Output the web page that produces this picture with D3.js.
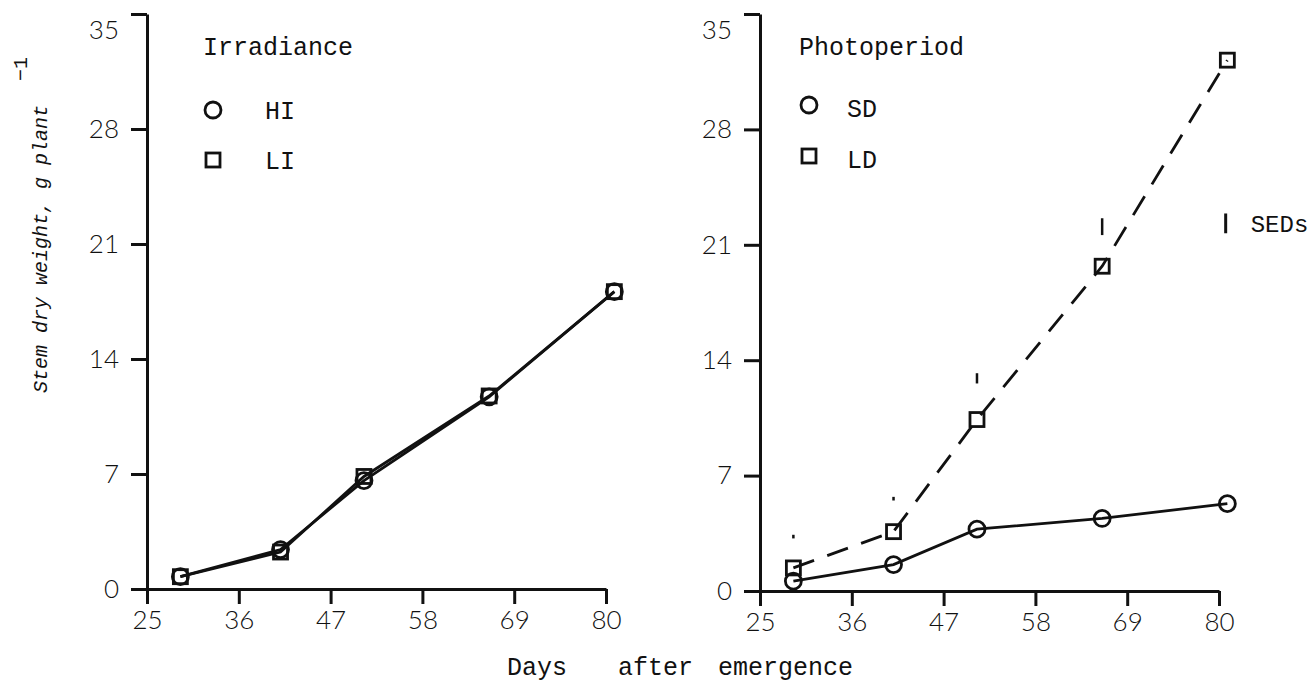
<!DOCTYPE html>
<html>
<head>
<meta charset="utf-8">
<script src="https://cdn.jsdelivr.net/npm/d3@7"></script>
<style>
  body { margin: 0; background: #fff; }
  svg { display: block; }
  .tw { font-family: "Liberation Mono", "DejaVu Sans Mono", monospace; fill: #111; }
  .axis path, .axis line { stroke: #111; stroke-width: 3; }
  .axis text { font-family: Lato, "Open Sans", sans-serif; font-weight: 300; font-size: 26px; fill: #111; }
</style>
</head>
<body>
<div class="chart"></div>
<script>
// stem dry weight (g per plant) at each harvest
var days = [29, 41, 51, 66, 81];
var hiWeight = [0.75, 2.4, 6.6, 11.7, 18.1];
var liWeight = [0.75, 2.25, 6.85, 11.75, 18.1];
var sdWeight = [0.6, 1.6, 3.75, 4.4, 5.3];
var ldWeight = [1.4, 3.6, 10.4, 19.7, 32.2];

// standard errors of difference, drawn as bars above the points
var sedDays = [29, 41, 51, 66];
var sedCentre = [3.3, 5.6, 12.9, 22.1];
var sedLength = [0.1, 0.1, 0.5, 0.9];
var sedKey = {day: 80.8, centre: 22.3, length: 1.2};

var xTicks = [25, 36, 47, 58, 69, 80];
var yTicks = [0, 7, 14, 21, 28, 35];

var width = 1313, height = 690;
var svg = d3.select(".chart").append("svg")
    .attr("width", width)
    .attr("height", height);

function panel(opt) {
  var x = d3.scaleLinear().domain([25, 80]).range([opt.left, opt.left + 459]);
  var y = d3.scaleLinear().domain([0, 35]).range([opt.bottom, 14]);

  svg.append("g")
      .attr("class", "axis")
      .attr("transform", "translate(0," + opt.bottom + ")")
      .call(d3.axisBottom(x).tickValues(xTicks).tickSize(15).tickSizeOuter(0).tickPadding(7));

  var yAxis = svg.append("g")
      .attr("class", "axis")
      .attr("transform", "translate(" + opt.left + ",0)")
      .call(d3.axisLeft(y).tickValues(yTicks).tickSize(16).tickSizeOuter(0).tickPadding(12));

  // top label sits a little below its tick
  yAxis.selectAll(".tick text")
      .filter(function(d) { return d == 35; })
      .attr("dy", "0.95em");

  var line = d3.line()
      .x(function(d, i) { return x(days[i]); })
      .y(function(d) { return y(d); });

  opt.series.forEach(function(s) {
    svg.append("path")
        .datum(s.values)
        .attr("fill", "none")
        .attr("stroke", "#111")
        .attr("stroke-width", 2.8)
        .attr("stroke-dasharray", s.dashed ? "22,14" : null)
        .attr("d", line);
  });

  // markers on top of the lines
  opt.series.forEach(function(s) {
    var g = svg.append("g");
    if (s.shape == "circle") {
      g.selectAll("circle")
        .data(s.values)
        .enter().append("circle")
          .attr("cx", function(d, i) { return x(days[i]); })
          .attr("cy", function(d) { return y(d); })
          .attr("r", 8)
          .attr("fill", "none")
          .attr("stroke", "#111")
          .attr("stroke-width", 2.8);
    } else {
      g.selectAll("rect")
        .data(s.values)
        .enter().append("rect")
          .attr("x", function(d, i) { return x(days[i]) - 7; })
          .attr("y", function(d) { return y(d) - 7; })
          .attr("width", 14)
          .attr("height", 14)
          .attr("fill", "none")
          .attr("stroke", "#111")
          .attr("stroke-width", 2.8);
    }
  });

  // legend
  svg.append("text")
      .attr("class", "tw")
      .attr("x", opt.left + opt.legendDx)
      .attr("y", 55)
      .style("font-size", "25px")
      .text(opt.title);

  opt.series.forEach(function(s, i) {
    var cy = opt.keyY[i];
    var cx = opt.left + opt.keyDx;
    if (s.shape == "circle") {
      svg.append("circle").attr("cx", cx).attr("cy", cy).attr("r", 8)
          .attr("fill", "none").attr("stroke", "#111").attr("stroke-width", 2.8);
    } else {
      svg.append("rect").attr("x", cx - 7).attr("y", cy - 7).attr("width", 14).attr("height", 14)
          .attr("fill", "none").attr("stroke", "#111").attr("stroke-width", 2.8);
    }
    svg.append("text")
        .attr("class", "tw")
        .attr("x", opt.left + opt.labelDx)
        .attr("y", cy + opt.labelDy)
        .style("font-size", "25px")
        .text(s.name);
  });

  return {x: x, y: y};
}

panel({
  left: 147, bottom: 589, title: "Irradiance",
  legendDx: 56, keyDx: 66, labelDx: 118, labelDy: 9, keyY: [110, 160],
  series: [
    {name: "HI", values: hiWeight, shape: "circle"},
    {name: "LI", values: liWeight, shape: "rect"}
  ]
});

var right = panel({
  left: 760, bottom: 591, title: "Photoperiod",
  legendDx: 39, keyDx: 49, labelDx: 87, labelDy: 12, keyY: [105, 156],
  series: [
    {name: "SD", values: sdWeight, shape: "circle"},
    {name: "LD", values: ldWeight, shape: "rect", dashed: true}
  ]
});

svg.append("g").selectAll("line")
  .data(sedDays)
  .enter().append("line")
    .attr("x1", function(d) { return right.x(d); })
    .attr("x2", function(d) { return right.x(d); })
    .attr("y1", function(d, i) { return right.y(sedCentre[i] + sedLength[i] / 2) - 1; })
    .attr("y2", function(d, i) { return right.y(sedCentre[i] - sedLength[i] / 2) + 1; })
    .attr("stroke", "#111")
    .attr("stroke-width", 2.5);

svg.append("line")
    .attr("x1", right.x(sedKey.day)).attr("x2", right.x(sedKey.day))
    .attr("y1", right.y(sedKey.centre + sedKey.length / 2))
    .attr("y2", right.y(sedKey.centre - sedKey.length / 2))
    .attr("stroke", "#111")
    .attr("stroke-width", 3);

svg.append("text")
    .attr("class", "tw")
    .attr("x", right.x(sedKey.day) + 25)
    .attr("y", right.y(sedKey.centre) + 9)
    .style("font-size", "24px")
    .text("SEDs");

// axis titles
var xTitle = [["Days", 507], ["after", 618], ["emergence", 718]];
svg.append("g").selectAll("text")
  .data(xTitle)
  .enter().append("text")
    .attr("class", "tw")
    .attr("x", function(d) { return d[1]; })
    .attr("y", 675)
    .style("font-size", "25px")
    .text(function(d) { return d[0]; });

var ylab = svg.append("text")
    .attr("class", "tw")
    .attr("transform", "translate(47,393) rotate(-90)")
    .style("font-size", "20px")
    .style("font-style", "italic");
ylab.append("tspan").text("Stem dry weight, g plant");
ylab.append("tspan")
    .attr("dx", 24)
    .attr("dy", -20)
    .style("font-style", "normal")
    .text("\u22121");
</script>
</body>
</html>
